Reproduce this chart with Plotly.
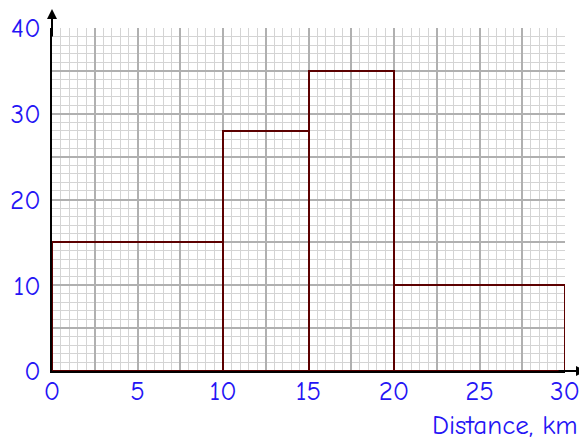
import plotly.graph_objects as go

# Histogram class edges (km) and frequency densities
edges = [0, 10, 15, 20, 30]
heights = [15, 28, 35, 10]

x_tick_vals = [0, 2.5, 5, 7.5, 10, 12.5, 15, 17.5, 20, 22.5, 25, 27.5, 30]
x_tick_text = ["0", "", "5", "", "10", "", "15", "", "20", "", "25", "", "30"]
y_tick_vals = [0, 5, 10, 15, 20, 25, 30, 35, 40]
y_tick_text = ["0", "", "10", "", "20", "", "30", "", "40"]
x_title = "Distance, km"

centers = [(a + b) / 2 for a, b in zip(edges[:-1], edges[1:])]
widths = [b - a for a, b in zip(edges[:-1], edges[1:])]

FONT = "Comic Sans MS, Comic Neue, Lato, sans-serif"
BLUE = "#2414f5"

fig = go.Figure()
fig.add_trace(go.Bar(
    x=centers, y=heights, width=widths,
    marker=dict(color="rgba(0,0,0,0)", line=dict(color="#5c0000", width=2)),
    hoverinfo="skip",
))

fig.update_layout(
    width=579, height=435,
    margin=dict(l=44, r=22, t=20, b=72),
    plot_bgcolor="white", paper_bgcolor="white",
    showlegend=False,
    bargap=0,
    font=dict(family=FONT, color=BLUE, size=27),
)
fig.update_xaxes(
    range=[0, 30], tickvals=x_tick_vals, ticktext=x_tick_text,
    automargin=False,
    showgrid=True, gridcolor="#b0b0b0", gridwidth=1.5,
    minor=dict(dtick=0.5, showgrid=True, gridcolor="#d4d4d4", gridwidth=1),
    showline=True, linecolor="black", linewidth=2,
    zeroline=False, ticks="", ticklabelstandoff=-5,
    tickfont=dict(size=27, color=BLUE, family=FONT),
)
fig.update_yaxes(
    range=[0, 40], tickvals=y_tick_vals, ticktext=y_tick_text,
    automargin=False,
    showgrid=True, gridcolor="#b0b0b0", gridwidth=1.5,
    minor=dict(dtick=1, showgrid=True, gridcolor="#d4d4d4", gridwidth=1),
    showline=True, linecolor="black", linewidth=2,
    zeroline=False, ticks="", ticklabelstandoff=4,
    tickfont=dict(size=27, color=BLUE, family=FONT),
)

# axis arrows
fig.add_annotation(x=0, y=1.058, xref="x", yref="paper", ax=0, ay=30,
                   axref="pixel", ayref="pixel", text="", showarrow=True,
                   arrowhead=2, arrowsize=1, arrowwidth=2, arrowcolor="black")
fig.add_annotation(x=1.043, y=0, xref="paper", yref="y", ax=-30, ay=0,
                   axref="pixel", ayref="pixel", text="", showarrow=True,
                   arrowhead=2, arrowsize=1, arrowwidth=2, arrowcolor="black")
fig.add_annotation(x=1.029, y=-0.158, xref="paper", yref="paper",
                   text=x_title, showarrow=False, xanchor="right", yanchor="middle",
                   font=dict(size=27, color=BLUE, family=FONT))

fig.write_html("out.html")
